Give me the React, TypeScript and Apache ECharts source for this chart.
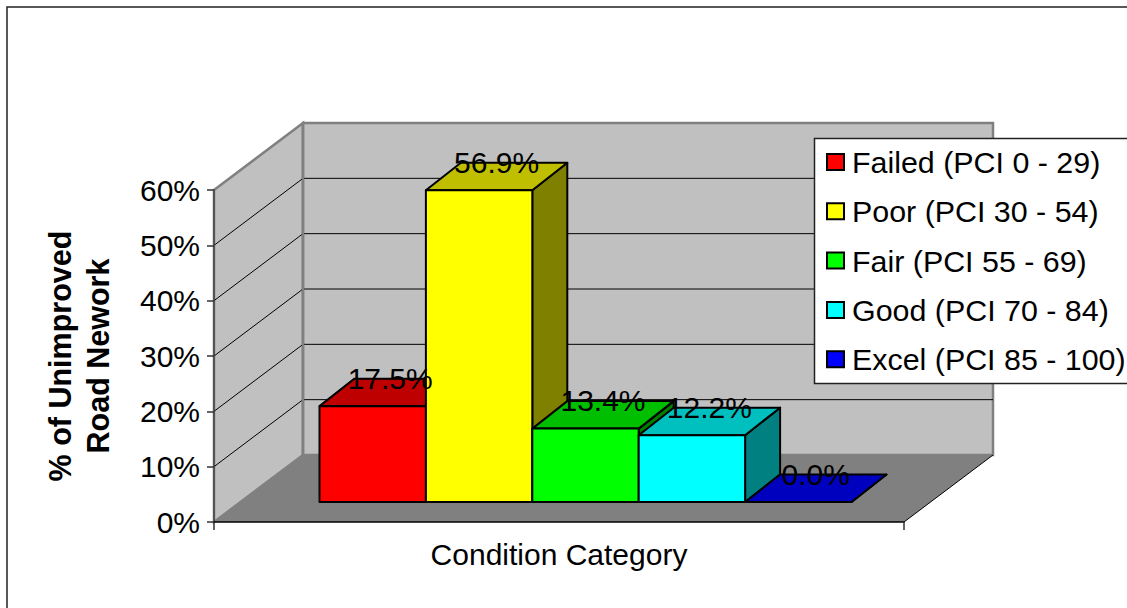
import React, { useEffect, useRef } from "react";
import * as echarts from "echarts";

const categories = ["Condition Category"];
const seriesNames = [
  "Failed (PCI 0 - 29)",
  "Poor (PCI 30 - 54)",
  "Fair (PCI 55 - 69)",
  "Good (PCI 70 - 84)",
  "Excel (PCI 85 - 100)",
];
const failedValues = [17.5];
const poorValues = [56.9];
const fairValues = [13.4];
const goodValues = [12.2];
const excelValues = [0.0];
const seriesValues = [failedValues, poorValues, fairValues, goodValues, excelValues];
const yTicks = [0, 10, 20, 30, 40, 50, 60];

const frontColors = ["#ff0000", "#ffff00", "#00ff00", "#00ffff", "#0000ff"];
const topColors = ["#bf0000", "#bfbf00", "#00bf00", "#00bfbf", "#0000bf"];
const sideColors = ["#800000", "#808000", "#008000", "#008080", "#000080"];

const FONT = '"Liberation Sans", Arial, sans-serif';
const WALL_DX = 89;
const WALL_DY = -67;
const BAR_W = 106.4;
const FLOOR_DX = 26.5;
const FLOOR_DY = -20;
const DEPTH_DX = 35;
const DEPTH_DY = -27.5;
const BAR_SCALE = 0.99;

function renderWalls(params: any, api: any) {
  const cs = params.coordSys;
  const left = cs.x;
  const right = cs.x + cs.width;
  const y0 = api.coord([0, 0])[1];
  const yMax = api.coord([0, 60])[1];
  const wall = { fill: "#c0c0c0", stroke: "#808080", lineWidth: 2.5 };
  const children: any[] = [
    {
      type: "polygon",
      shape: { points: [[left, yMax], [left + WALL_DX, yMax + WALL_DY], [left + WALL_DX, y0 + WALL_DY], [left, y0]] },
      style: wall,
    },
    {
      type: "polygon",
      shape: {
        points: [
          [left + WALL_DX, yMax + WALL_DY],
          [right + WALL_DX, yMax + WALL_DY],
          [right + WALL_DX, y0 + WALL_DY],
          [left + WALL_DX, y0 + WALL_DY],
        ],
      },
      style: wall,
    },
  ];
  yTicks.forEach((t) => {
    if (t === 0 || t === 60) return;
    const y = api.coord([0, t])[1];
    children.push({
      type: "polyline",
      shape: { points: [[left, y], [left + WALL_DX, y + WALL_DY], [right + WALL_DX, y + WALL_DY]] },
      style: { fill: "none", stroke: "#000", lineWidth: 1 },
    });
  });
  children.push({
    type: "polygon",
    shape: { points: [[left, y0], [right, y0], [right + WALL_DX, y0 + WALL_DY], [left + WALL_DX, y0 + WALL_DY]] },
    style: { fill: "#808080" },
  });
  children.push({
    type: "line",
    shape: { x1: right, y1: y0, x2: right + WALL_DX, y2: y0 + WALL_DY },
    style: { stroke: "#000", lineWidth: 1 },
  });
  children.push({
    type: "line",
    shape: { x1: left + WALL_DX, y1: yMax + WALL_DY, x2: left + WALL_DX, y2: y0 + WALL_DY },
    style: { stroke: "#808080", lineWidth: 2.5 },
  });
  return { type: "group", children };
}

function makeBarRenderer(i: number) {
  return (params: any, api: any) => {
    const value = api.value(1);
    const [cx, y0] = api.coord([0, 0]);
    const yv = api.coord([0, value])[1];
    const x1 = cx + (i - 2.5) * BAR_W + FLOOR_DX;
    const x2 = x1 + BAR_W;
    const base = y0 + FLOOR_DY;
    const top = base - (y0 - yv) * BAR_SCALE;
    const edge = { stroke: "#000", lineWidth: 2, lineJoin: "round" };
    return {
      type: "group",
      children: [
        {
          type: "polygon",
          shape: { points: [[x2, top], [x2 + DEPTH_DX, top + DEPTH_DY], [x2 + DEPTH_DX, base + DEPTH_DY], [x2, base]] },
          style: { fill: sideColors[i], ...edge },
        },
        {
          type: "polygon",
          shape: { points: [[x1, top], [x2, top], [x2 + DEPTH_DX, top + DEPTH_DY], [x1 + DEPTH_DX, top + DEPTH_DY]] },
          style: { fill: topColors[i], ...edge },
        },
        {
          type: "polygon",
          shape: { points: [[x1, top], [x2, top], [x2, base], [x1, base]] },
          style: { fill: frontColors[i], ...edge },
        },
        {
          type: "text",
          z2: 100,
          style: {
            text: value.toFixed(1) + "%",
            x: (x1 + x2) / 2 + 17.5,
            y: top - 28,
            fill: "#000",
            fontSize: 30,
            fontFamily: FONT,
            align: "center",
            verticalAlign: "middle",
          },
        },
      ],
    };
  };
}

export default function App() {
  const ref = useRef<HTMLDivElement>(null);
  useEffect(() => {
    document.body.style.margin = "0";
    const chart = echarts.init(ref.current!, null, { renderer: "svg" });
    chart.setOption({
      animation: false,
      backgroundColor: "#fff",
      textStyle: { fontFamily: FONT },
      grid: { left: 214, right: 223, top: 190, bottom: 86, outerBoundsMode: "none" },
      xAxis: {
        type: "category",
        data: categories,
        z: 5,
        axisLine: { lineStyle: { color: "#000", width: 1.5 } },
        axisTick: { show: true, length: 8, lineStyle: { color: "#333", width: 1.5 } },
        axisLabel: { color: "#000", fontSize: 30, fontFamily: FONT, margin: 17 },
      },
      yAxis: {
        type: "value",
        min: 0,
        max: 60,
        interval: 10,
        z: 5,
        name: "% of Unimproved\nRoad Nework",
        nameLocation: "middle",
        nameRotate: 90,
        nameGap: 97,
        nameTextStyle: { color: "#000", fontSize: 30.5, fontWeight: "bold", fontFamily: FONT, lineHeight: 38 },
        axisLine: { show: true, lineStyle: { color: "#444", width: 1.5 } },
        axisTick: { show: true, length: 7, lineStyle: { color: "#333", width: 1.5 } },
        axisLabel: { color: "#000", fontSize: 30, fontFamily: FONT, margin: 14, formatter: "{value}%" },
        splitLine: { show: false },
      },
      legend: {
        data: seriesNames,
        orient: "vertical",
        left: 826,
        top: 147,
        padding: 0,
        z: 8,
        itemWidth: 17,
        itemHeight: 16,
        itemGap: 19.3,
        icon: "rect",
        itemStyle: { borderColor: "#000", borderWidth: 2 },
        textStyle: { color: "#000", fontSize: 30.4, fontFamily: FONT, padding: [0, 0, 0, 3], lineHeight: 30 },
        selectedMode: false,
      },
      graphic: [
        {
          type: "rect",
          z: 0,
          shape: { x: 7, y: 7, width: 1300, height: 800 },
          style: { fill: "#fff", stroke: "#222", lineWidth: 1.5 },
        },
        {
          type: "rect",
          z: 7,
          shape: { x: 814.5, y: 138.5, width: 400, height: 245 },
          style: { fill: "#fff", stroke: "#222", lineWidth: 1.5 },
        },
      ],
      series: [
        {
          type: "custom",
          name: "Walls",
          z: 1,
          silent: true,
          data: [[0, 60]],
          encode: { x: 0, y: 1 },
          renderItem: renderWalls,
        },
        ...seriesNames.map((name, i) => ({
          type: "custom",
          name,
          z: 3,
          silent: true,
          itemStyle: { color: frontColors[i] },
          data: seriesValues[i].map((v, k) => [k, v]),
          encode: { x: 0, y: 1 },
          renderItem: makeBarRenderer(i),
        })),
      ],
    });
    return () => chart.dispose();
  }, []);
  return <div ref={ref} style={{ width: 1127, height: 608 }} />;
}
